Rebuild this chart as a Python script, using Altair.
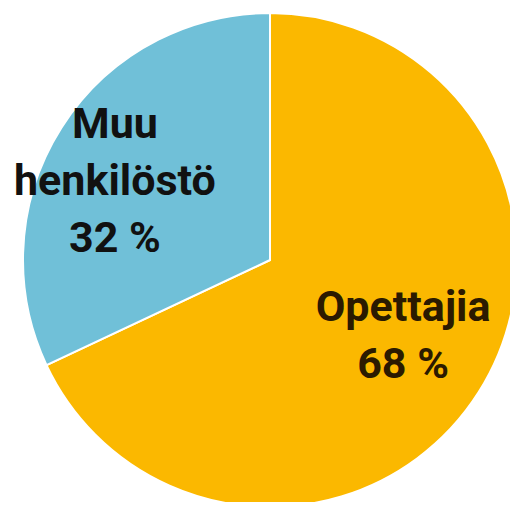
import altair as alt
import pandas as pd

categories = ["Opettajia", "Muu henkilöstö"]
values = [68, 32]
label_lines = [["Opettajia", "68 %"], ["Muu", "henkilöstö", "32 %"]]
colors = ["#FBB800", "#70C0D8"]
text_colors = ["#2B1A00", "#111111"]
order = [1, 2]

df = pd.DataFrame({
    "cat": categories,
    "val": values,
    "ord": order,
    "label": ["\n".join(l) for l in label_lines],
})

W, H = 502, 494
CX, CY = 262, 252
R = 247

base = alt.Chart(df).encode(
    theta=alt.Theta("val:Q", stack=True),
    order=alt.Order("ord:Q"),
)

pie = base.mark_arc(stroke="white", strokeWidth=2).encode(
    color=alt.Color("cat:N", scale=alt.Scale(domain=categories, range=colors), legend=None),
    radius=alt.value(R),
    x=alt.value(CX),
    y=alt.value(CY),
)


def label_layer(cat, dx, dy, color):
    return base.transform_calculate(
        shown=f"datum.cat == '{cat}' ? datum.label : ''"
    ).mark_text(
        font="Roboto", fontWeight="bold", fontSize=43, lineBreak="\n",
        lineHeight=57, align="center", baseline="alphabetic", dx=dx, dy=dy, color=color,
    ).encode(
        text="shown:N",
        radius=alt.value(160),
        x=alt.value(CX),
        y=alt.value(CY),
    )


t_op = label_layer("Opettajia", -2, -25, text_colors[0])
t_muu = label_layer("Muu henkilöstö", -20, -36, text_colors[1])

chart = alt.layer(pie, t_op, t_muu).properties(
    width=W, height=H, padding=0, autosize=alt.AutoSizeParams(type="none"),
    background="white",
).configure_view(stroke=None)

chart.save("out.html", embed_options={"renderer": "svg", "actions": False})
